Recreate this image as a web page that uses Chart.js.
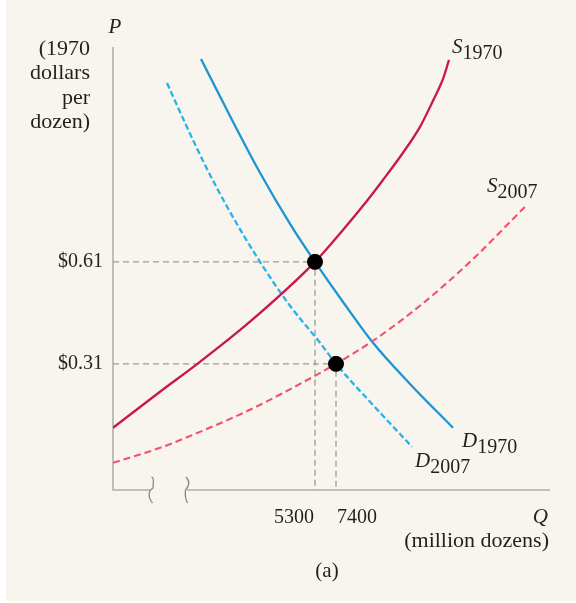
<!DOCTYPE html>
<html>
<head>
<meta charset="utf-8">
<script src="https://cdn.jsdelivr.net/npm/chart.js@4/dist/chart.umd.min.js"></script>
<style>
  html, body { margin: 0; padding: 0; background: #fff; }
  canvas { display: block; }
</style>
</head>
<body>
<canvas id="egg-chart" width="576" height="603"></canvas>
<script>
// Q in million dozens, P in 1970 dollars per dozen.
// The Q axis is broken near the origin, so the left part is schematic.
const xTicks = [5300, 7400];
const xTickLabels = ["5300", "7400"];
const yTicks = [0.31, 0.61];
const yTickLabels = ["$0.31", "$0.61"];

const s1970Q = [-14900, -10200, -6200, -1200, 5300, 8100, 10100, 12100, 14100, 15800, 17100, 18100, 18700];
const s1970P = [0.122, 0.228, 0.316, 0.434, 0.61, 0.704, 0.775, 0.851, 0.931, 1.007, 1.084, 1.148, 1.204];

const s2007Q = [-14900, -10200, -6200, -1200, 3800, 7400, 11100, 15800, 20800, 26500];
const s2007P = [0.019, 0.063, 0.11, 0.175, 0.251, 0.31, 0.378, 0.481, 0.61, 0.778];

const d1970Q = [-6100, -3200, -200, 2800, 5300, 8300, 11100, 14800, 19100];
const d1970P = [1.207, 1.039, 0.872, 0.722, 0.61, 0.484, 0.372, 0.251, 0.122];

const d2007Q = [-9500, -7700, -5700, -3200, -200, 2800, 5800, 7400, 11100, 15000];
const d2007P = [1.136, 1.019, 0.895, 0.757, 0.61, 0.481, 0.372, 0.31, 0.189, 0.066];

const eqQ = [5300, 7400];
const eqP = [0.61, 0.31];

const qMin = -14900, qMax = 28800;
const pMin = -0.061, pMax = 1.242;

const SERIF = "'Liberation Serif', 'DejaVu Serif', serif";
const INK = "#231f20";
const AXIS = "#b3aea8";

const pts = (qs, ps) => qs.map((q, i) => ({x: q, y: ps[i]}));

// dashed guides from the axes to each equilibrium
const guides = eqQ.map((q, i) => ({
  data: [{x: qMin, y: eqP[i]}, {x: q, y: eqP[i]}, {x: q, y: pMin}],
  showLine: true,
  borderColor: "#9d9a96",
  borderWidth: 1.3,
  borderDash: [6, 4],
  pointRadius: 0,
  tension: 0,
  order: 3
}));

function curve(qs, ps, color, dash, width) {
  return {
    data: pts(qs, ps),
    showLine: true,
    borderColor: color,
    borderWidth: width,
    borderDash: dash,
    pointRadius: 0,
    cubicInterpolationMode: "monotone",
    order: 2
  };
}

function subLabel(ctx, x, y, main, sub) {
  ctx.font = "italic 21px " + SERIF;
  ctx.fillText(main, x, y);
  const w = ctx.measureText(main).width;
  ctx.font = "20px " + SERIF;
  ctx.fillText(sub, x + w, y + 6);
}

const paper = {
  id: "paper",
  beforeDraw(chart) {
    const ctx = chart.ctx;
    ctx.save();
    ctx.fillStyle = "#ffffff";
    ctx.fillRect(0, 0, chart.width, chart.height);
    ctx.fillStyle = "#f8f4ee";
    ctx.fillRect(6, 0, chart.width - 6, chart.height - 2);
    ctx.restore();
  },
  beforeDatasetsDraw(chart) {
    const {ctx, chartArea: a} = chart;
    ctx.save();
    ctx.strokeStyle = AXIS;
    ctx.lineWidth = 1.6;
    ctx.beginPath();
    ctx.moveTo(a.left, a.top);
    ctx.lineTo(a.left, a.bottom);
    ctx.lineTo(150, a.bottom);
    ctx.moveTo(187, a.bottom);
    ctx.lineTo(a.right, a.bottom);
    ctx.stroke();

    // axis break marks
    ctx.strokeStyle = "#8c8884";
    ctx.lineWidth = 1.3;
    ctx.beginPath();
    ctx.moveTo(151.5, 477);
    ctx.quadraticCurveTo(154, 478, 153.3, 483);
    ctx.lineTo(153, 488);
    ctx.lineTo(150, 490.5);
    ctx.quadraticCurveTo(147.5, 497, 152.5, 503);
    ctx.moveTo(186, 477);
    ctx.quadraticCurveTo(192, 483, 185.5, 490);
    ctx.quadraticCurveTo(184.5, 497, 187.5, 503);
    ctx.stroke();
    ctx.restore();
  },
  afterDraw(chart) {
    const {ctx, chartArea: a} = chart;
    const xs = chart.scales.x, ys = chart.scales.y;
    ctx.save();
    ctx.fillStyle = INK;
    ctx.textBaseline = "alphabetic";

    // axis titles
    ctx.textAlign = "center";
    ctx.font = "italic 21px " + SERIF;
    ctx.fillText("P", a.left + 2, 33);
    ctx.textAlign = "right";
    ctx.font = "22px " + SERIF;
    ["(1970", "dollars", "per", "dozen)"].forEach((t, i) => ctx.fillText(t, 90, 55 + i * 24.4));

    ctx.font = "italic 21px " + SERIF;
    ctx.fillText("Q", 548, 523);
    ctx.font = "22px " + SERIF;
    ctx.fillText("(million dozens)", 549, 547);
    ctx.textAlign = "center";
    ctx.font = "21px " + SERIF;
    ctx.fillText("(a)", 327, 577);

    // Q tick labels hug their guide lines
    ctx.font = "20px " + SERIF;
    xTicks.forEach((q, i) => {
      const px = xs.getPixelForValue(q);
      ctx.textAlign = i === 0 ? "right" : "left";
      ctx.fillText(xTickLabels[i], i === 0 ? px - 1 : px + 1, 523);
    });

    // curve labels next to the curve ends
    ctx.textAlign = "left";
    const end = (qs, ps) => ({
      x: xs.getPixelForValue(qs[qs.length - 1]),
      y: ys.getPixelForValue(ps[ps.length - 1])
    });
    let e = end(s1970Q, s1970P);
    subLabel(ctx, e.x + 3, e.y - 7, "S", "1970");
    e = end(s2007Q, s2007P);
    subLabel(ctx, e.x - 40, e.y - 13, "S", "2007");
    e = end(d1970Q, d1970P);
    subLabel(ctx, e.x + 9, e.y + 19, "D", "1970");
    e = end(d2007Q, d2007P);
    subLabel(ctx, e.x + 3, e.y + 20, "D", "2007");
    ctx.restore();
  }
};

new Chart(document.getElementById("egg-chart"), {
  type: "scatter",
  data: {
    datasets: [
      {
        data: pts(eqQ, eqP),
        backgroundColor: "#000",
        borderColor: "#000",
        pointRadius: 7.5,
        pointHoverRadius: 7.5,
        order: 0
      },
      curve(s1970Q, s1970P, "#c9164e", [], 2.3),
      curve(s2007Q, s2007P, "#f0516f", [7, 4], 2.1),
      curve(d1970Q, d1970P, "#1b95d3", [], 2.3),
      curve(d2007Q, d2007P, "#27b3e9", [6, 3], 2.3),
      ...guides
    ]
  },
  options: {
    responsive: false,
    animation: false,
    devicePixelRatio: 1,
    layout: { padding: { left: 0, top: 47, right: 26, bottom: 113 } },
    plugins: { legend: { display: false }, tooltip: { enabled: false } },
    scales: {
      x: { type: "linear", min: qMin, max: qMax, display: false },
      y: {
        type: "linear",
        min: pMin,
        max: pMax,
        grid: { display: false, drawTicks: false },
        border: { display: false },
        afterBuildTicks: (scale) => { scale.ticks = yTicks.map(v => ({value: v})); },
        afterFit: (scale) => { scale.width = 113; },
        ticks: {
          padding: 10,
          color: INK,
          font: { family: SERIF, size: 20 },
          callback: (v) => yTickLabels[yTicks.indexOf(v)]
        }
      }
    }
  },
  plugins: [paper]
});
</script>
</body>
</html>
